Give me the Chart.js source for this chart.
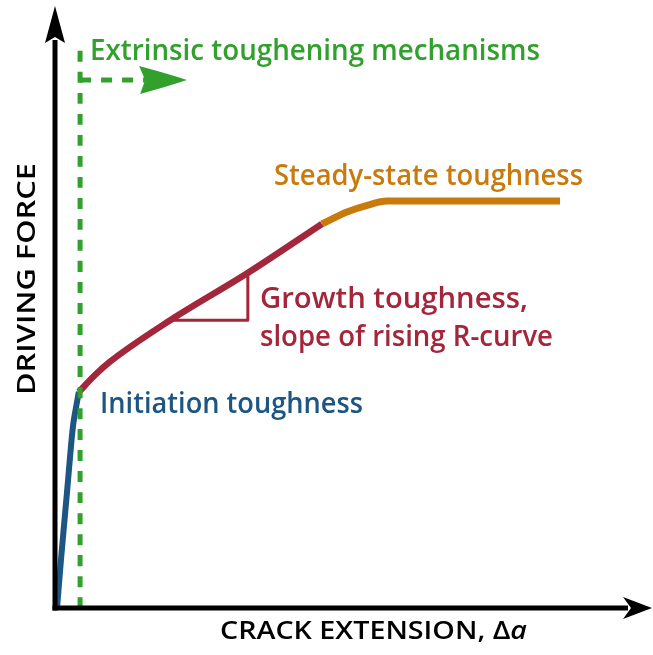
<!DOCTYPE html>
<html><head><meta charset="utf-8">
<script src="https://cdn.jsdelivr.net/npm/chart.js@4/dist/chart.umd.min.js"></script>
<style>html,body{margin:0;padding:0;background:#fff;}canvas{display:block;}</style>
</head><body>
<canvas id="c" width="653" height="655"></canvas>
<script>
// Data (arbitrary units: crack extension 0-100, driving force 0-100)
const initiationX = [0.34, 1.0, 2.0, 3.0, 3.5, 4.0];
const initiationY = [0.0, 8.0, 19.1, 30.1, 33.2, 35.9];
const growthX = [4.0, 6.7, 9.2, 19.3, 32.2, 44.7];
const growthY = [35.9, 38.7, 40.9, 47.8, 55.6, 63.8];
const steadyX = [44.7, 48.9, 52.3, 55.6, 84.6];
const steadyY = [63.8, 65.8, 66.9, 67.6, 67.6];
const slopeTriX = [19.6, 32.3, 32.3];
const slopeTriY = [47.8, 47.8, 55.6];
const extrinsicVX = [4.2, 4.2];
const extrinsicVY = [0, 93.9];
const extrinsicHX = [4.2, 15.1];
const extrinsicHY = [87.7, 87.7];
const extrinsicArrowTipX = 22.1;
const labels = {
  extrinsic: "Extrinsic toughening mechanisms",
  steady: "Steady-state toughness",
  growth1: "Growth toughness,",
  growth2: "slope of rising R-curve",
  initiation: "Initiation toughness",
  xTitle: "CRACK EXTENSION, \u0394",
  xTitleItalic: "a",
  yTitle: "DRIVING FORCE"
};

const GREEN = '#31a02d', BLUE = '#1d5583', RED = '#a3263a', ORANGE = '#c87a0c';
const pts = (xs, ys) => xs.map((x, i) => ({x, y: ys[i]}));
const line = (xs, ys, color, w, extra) => Object.assign({
  data: pts(xs, ys), showLine: true, borderColor: color, backgroundColor: color,
  borderWidth: w, pointRadius: 0, pointHoverRadius: 0, clip: false,
  tension: 0.4, cubicInterpolationMode: 'monotone', borderCapStyle: 'butt', borderJoinStyle: 'round'
}, extra || {});

const FONT = '"Open Sans", "DejaVu Sans", sans-serif';
const CAP = 0.714;
function fitText(ctx, parts, x, base, targetW, cap, color, weight, rot) {
  const size = cap / CAP;
  let total = 0;
  const fonts = parts.map(p => (p.italic ? 'italic ' : '') + weight + ' ' + size + 'px ' + FONT);
  parts.forEach((p, i) => { ctx.font = fonts[i]; total += ctx.measureText(p.t).width; });
  const sx = targetW / total;
  ctx.save();
  ctx.translate(x, base);
  if (rot) ctx.rotate(rot);
  ctx.scale(sx, 1);
  ctx.fillStyle = color; ctx.textBaseline = 'alphabetic'; ctx.textAlign = 'left';
  let cx = 0;
  parts.forEach((p, i) => { ctx.font = fonts[i]; ctx.fillText(p.t, cx, 0); cx += ctx.measureText(p.t).width; });
  ctx.restore();
}

const decor = {
  id: 'decor',
  afterDatasetsDraw(chart) {
    const ctx = chart.ctx, xs = chart.scales.x, ys = chart.scales.y, ca = chart.chartArea;
    const ox = xs.getPixelForValue(0), oy = ys.getPixelForValue(0);
    ctx.save();
    // axes
    ctx.fillStyle = '#000'; ctx.strokeStyle = '#000'; ctx.lineWidth = 5; ctx.lineCap = 'butt';
    ctx.beginPath(); ctx.moveTo(ox, oy + 2.5); ctx.lineTo(ox, ca.top + 34); ctx.stroke();
    ctx.beginPath(); ctx.moveTo(ox - 2.5, oy); ctx.lineTo(ca.right - 24, oy); ctx.stroke();
    ctx.beginPath(); // y arrowhead
    ctx.moveTo(ox, ca.top); ctx.lineTo(ox + 10, ca.top + 37); ctx.lineTo(ox, ca.top + 31); ctx.lineTo(ox - 10, ca.top + 37); ctx.closePath(); ctx.fill();
    ctx.beginPath(); // x arrowhead
    ctx.moveTo(ca.right, oy); ctx.lineTo(ca.right - 29, oy + 11); ctx.lineTo(ca.right - 21, oy); ctx.lineTo(ca.right - 29, oy - 11); ctx.closePath(); ctx.fill();
    // green arrowhead
    const gx = xs.getPixelForValue(extrinsicHX[1]), gy = ys.getPixelForValue(extrinsicHY[1]);
    const tx = xs.getPixelForValue(extrinsicArrowTipX);
    ctx.fillStyle = GREEN;
    ctx.beginPath();
    ctx.moveTo(tx, gy); ctx.quadraticCurveTo(tx - 18, gy - 6, gx - 6, gy - 14);
    ctx.lineTo(gx, gy); ctx.lineTo(gx - 5, gy + 14);
    ctx.quadraticCurveTo(tx - 18, gy + 6, tx, gy); ctx.closePath(); ctx.fill();
    ctx.restore();
    // texts
    fitText(ctx, [{t: labels.extrinsic}], 90, 60, 450, 21, GREEN, 600);
    fitText(ctx, [{t: labels.steady}], 274, 185, 309, 21, ORANGE, 600);
    fitText(ctx, [{t: labels.growth1}], 260, 308, 268, 21, RED, 600);
    fitText(ctx, [{t: labels.growth2}], 260, 346, 293, 21, RED, 600);
    fitText(ctx, [{t: labels.initiation}], 100, 413, 263, 21, BLUE, 600);
    fitText(ctx, [{t: labels.xTitle}, {t: labels.xTitleItalic, italic: true}], 220, 639, 307, 17.5, '#000', 600);
    fitText(ctx, [{t: labels.yTitle}], 35, 395, 232, 18, '#000', 600, -Math.PI / 2);
  }
};

new Chart(document.getElementById('c'), {
  type: 'scatter',
  data: {
    datasets: [
      line(extrinsicVX, extrinsicVY, GREEN, 5, {tension: 0, borderDash: [11, 10]}),
      line(extrinsicHX, extrinsicHY, GREEN, 5, {tension: 0, borderDash: [11, 10]}),
      line(initiationX, initiationY, BLUE, 6),
      line(growthX, growthY, RED, 6.5),
      line(steadyX, steadyY, ORANGE, 7),
      line(slopeTriX, slopeTriY, RED, 3, {tension: 0})
    ]
  },
  options: {
    responsive: false, animation: false, devicePixelRatio: 1,
    layout: {padding: {left: 55, right: 1, top: 6, bottom: 47}},
    plugins: {legend: {display: false}, tooltip: {enabled: false}},
    events: [],
    scales: {
      x: {type: 'linear', min: 0, max: 100, display: false},
      y: {type: 'linear', min: 0, max: 100, display: false}
    }
  },
  plugins: [decor]
});
</script>
</body></html>
